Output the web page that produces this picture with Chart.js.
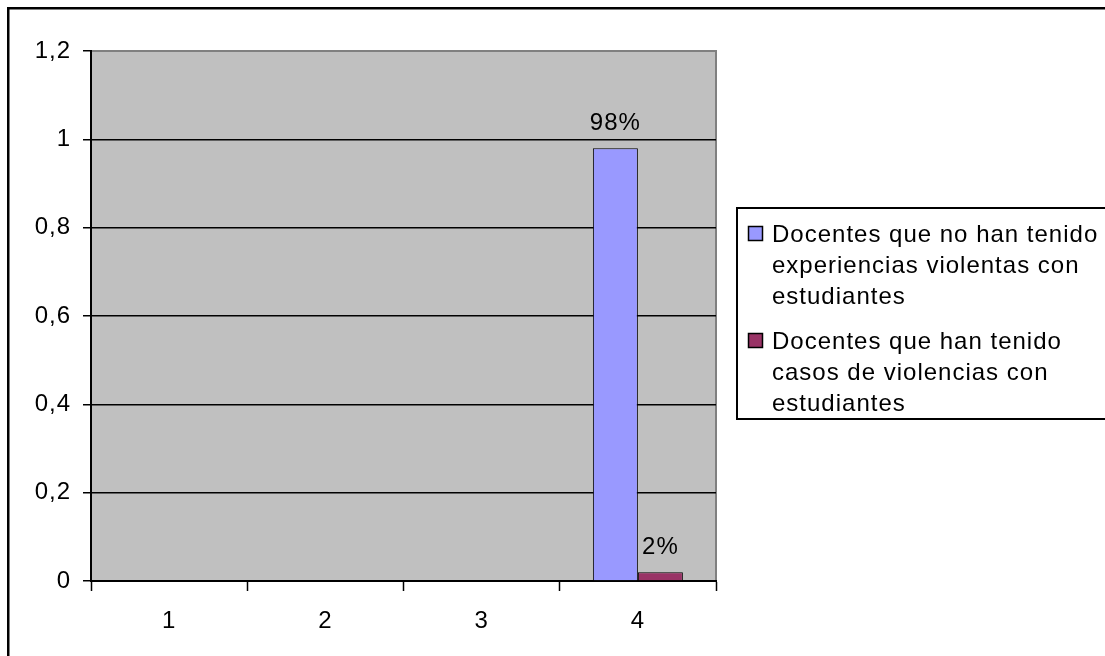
<!DOCTYPE html>
<html>
<head>
<meta charset="utf-8">
<script src="https://cdn.jsdelivr.net/npm/chart.js@4.4.1/dist/chart.umd.min.js"></script>
<style>
  html, body { margin: 0; padding: 0; background: #fff; }
  #wrap { position: relative; width: 1105px; height: 656px; }
</style>
</head>
<body>
<div id="wrap"><canvas id="chart" width="1105" height="656"></canvas></div>
<script>
const categories = ["1", "2", "3", "4"];
const sinViolencia = [null, null, null, 0.98];
const conViolencia = [null, null, null, 0.02];
const yTickLabels = ["0", "0,2", "0,4", "0,6", "0,8", "1", "1,2"];
const legendLines = [
  ["Docentes que no han tenido", "experiencias violentas con", "estudiantes"],
  ["Docentes que han tenido", "casos de violencias con", "estudiantes"],
];

const FONT = "'Liberation Sans', Arial, sans-serif";
const FS = 24;

// gray plot area with the darker top/right edge
const plotBg = {
  id: "plotBg",
  beforeDraw(chart) {
    const { ctx, chartArea: a } = chart;
    ctx.letterSpacing = "1px"; // original text is set a bit wide
    ctx.save();
    ctx.fillStyle = "#c0c0c0";
    ctx.fillRect(a.left, a.top, a.right - a.left, a.bottom - a.top);
    ctx.strokeStyle = "#808080";
    ctx.lineWidth = 2;
    ctx.beginPath();
    ctx.moveTo(a.left, a.top);
    ctx.lineTo(a.right, a.top);
    ctx.lineTo(a.right, a.bottom);
    ctx.stroke();
    ctx.restore();
  },
};

// percent labels above the bars
const barLabels = {
  id: "barLabels",
  afterDatasetsDraw(chart) {
    const ctx = chart.ctx;
    ctx.save();
    ctx.font = FS + "px " + FONT;
    ctx.fillStyle = "#000";
    ctx.textAlign = "center";
    ctx.textBaseline = "alphabetic";
    chart.data.datasets.forEach((ds, i) => {
      chart.getDatasetMeta(i).data.forEach((bar, j) => {
        const v = ds.data[j];
        if (v == null) return;
        ctx.fillText(Math.round(v * 100) + "%", bar.x, bar.y - 18);
      });
    });
    ctx.restore();
  },
};

// boxed legend at the right plus the outer frame
const sideLegend = {
  id: "sideLegend",
  afterDraw(chart) {
    const ctx = chart.ctx;
    ctx.save();
    ctx.strokeStyle = "#000";
    ctx.lineWidth = 2.5;
    ctx.strokeRect(8.25, 8.25, 1200, 1200);

    ctx.lineWidth = 2;
    ctx.strokeRect(737, 208, 500, 211);

    ctx.font = FS + "px " + FONT;
    ctx.textBaseline = "alphabetic";
    ctx.textAlign = "left";
    const starts = [242, 349];
    const lineH = 31;
    chart.data.datasets.forEach((ds, i) => {
      const y0 = starts[i];
      ctx.fillStyle = ds.backgroundColor;
      ctx.fillRect(748.5, y0 - 15.5, 14, 14);
      ctx.strokeStyle = "#000";
      ctx.lineWidth = 1.5;
      ctx.strokeRect(748.5, y0 - 15.5, 14, 14);
      ctx.fillStyle = "#000";
      legendLines[i].forEach((t, k) => ctx.fillText(t, 772, y0 + k * lineH));
    });
    ctx.restore();
  },
};

new Chart(document.getElementById("chart"), {
  type: "bar",
  data: {
    labels: categories,
    datasets: [
      {
        label: legendLines[0].join(" "),
        data: sinViolencia,
        backgroundColor: "#9999ff",
        borderColor: "#000",
        borderWidth: 1,
      },
      {
        label: legendLines[1].join(" "),
        data: conViolencia,
        backgroundColor: "#993366",
        borderColor: "#000",
        borderWidth: 1,
      },
    ],
  },
  options: {
    responsive: false,
    animation: false,
    layout: { padding: { left: 0, top: 51, right: 389, bottom: 0 } },
    datasets: { bar: { barPercentage: 1, categoryPercentage: 0.576 } },
    plugins: { legend: { display: false }, tooltip: { enabled: false } },
    scales: {
      x: {
        afterFit: (s) => { s.height = 75; },
        grid: {
          drawOnChartArea: false,
          tickLength: 10,
          tickColor: "#000",
          tickWidth: 1.5,
        },
        border: { color: "#000", width: 2 },
        ticks: {
          color: "#000",
          font: { family: FONT, size: FS },
          padding: 16,
        },
      },
      y: {
        min: 0,
        max: 1.2,
        afterFit: (s) => { s.width = 91; },
        afterBuildTicks: (s) => {
          s.ticks = yTickLabels.map((_, i) => ({ value: i * 0.2 }));
        },
        grid: {
          color: (c) => (c.index === yTickLabels.length - 1 ? "#808080" : "#000"),
          lineWidth: 1.5,
          tickLength: 8,
          tickColor: "#000",
          tickWidth: 1.5,
        },
        border: { color: "#000", width: 2 },
        ticks: {
          color: "#000",
          font: { family: FONT, size: FS },
          padding: 12,
          callback: (v, i) => yTickLabels[i],
        },
      },
    },
  },
  plugins: [plotBg, barLabels, sideLegend],
});
</script>
</body>
</html>
